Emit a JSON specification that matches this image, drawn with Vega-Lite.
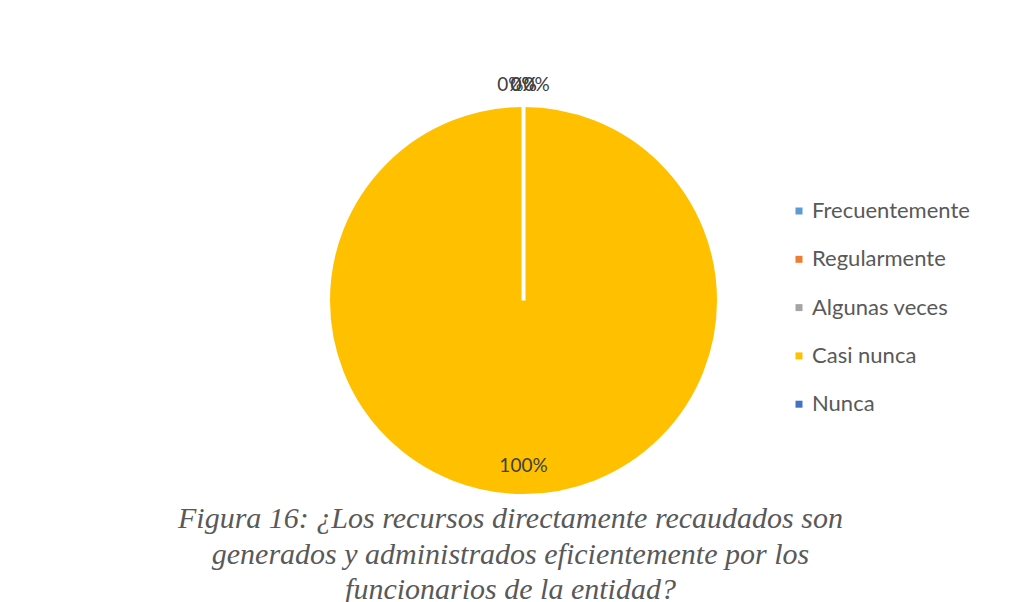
{
  "$schema": "https://vega.github.io/schema/vega-lite/v6.json",
  "width": 387,
  "height": 387,
  "autosize": {"type": "none"},
  "padding": {"left": 330, "top": 107, "right": 300, "bottom": 108},
  "background": "white",
  "config": {"view": {"stroke": null}, "font": "Lato"},
  "title": {
    "text": ["Figura 16: ¿Los recursos directamente recaudados son", "generados y administrados eficientemente por los", "funcionarios de la entidad?"],
    "orient": "bottom",
    "anchor": "middle",
    "frame": "group",
    "font": "Liberation Serif",
    "fontStyle": "italic",
    "fontWeight": "normal",
    "fontSize": 30,
    "color": "#595959",
    "lineHeight": 35.5,
    "offset": 0,
    "dx": -13
  },
  "data": {
    "values": [
      {"categoria": "Frecuentemente", "orden": 1, "valor": 0},
      {"categoria": "Regularmente", "orden": 2, "valor": 0},
      {"categoria": "Algunas veces", "orden": 3, "valor": 0},
      {"categoria": "Casi nunca", "orden": 4, "valor": 1},
      {"categoria": "Nunca", "orden": 5, "valor": 0}
    ]
  },
  "encoding": {
    "theta": {"field": "valor", "type": "quantitative", "stack": true},
    "order": {"field": "orden", "type": "quantitative", "sort": "ascending"}
  },
  "layer": [
    {
      "mark": {"type": "arc", "outerRadius": 195.5, "stroke": "white", "strokeWidth": 4},
      "encoding": {
        "color": {
          "field": "categoria",
          "type": "nominal",
          "sort": ["Frecuentemente", "Regularmente", "Algunas veces", "Casi nunca", "Nunca"],
          "scale": {
            "domain": ["Frecuentemente", "Regularmente", "Algunas veces", "Casi nunca", "Nunca"],
            "range": ["#5B9BD5", "#ED7D31", "#A5A5A5", "#FFC000", "#4472C4"]
          },
          "legend": {
            "orient": "none",
            "legendX": 458,
            "legendY": 93,
            "title": null,
            "symbolType": "square",
            "symbolSize": 49,
            "symbolStrokeWidth": 0,
            "labelFont": "Lato",
            "labelFontSize": 22,
            "labelColor": "#595959",
            "rowPadding": 26.3,
            "labelOffset": 2,
            "padding": 0
          }
        }
      }
    },
    {
      "mark": {
        "type": "text",
        "font": "Lato",
        "fontSize": 19,
        "align": {"expr": "datum.categoria === 'Frecuentemente' ? 'right' : datum.categoria === 'Algunas veces' ? 'left' : 'center'"}
      },
      "encoding": {
        "text": {"field": "valor", "type": "quantitative", "format": ".0%"},
        "color": {"value": "#404040"},
        "radius": {
          "field": "valor",
          "type": "quantitative",
          "scale": {"type": "linear", "domain": [0, 1], "range": [216, 165], "zero": false}
        }
      }
    }
  ]
}
